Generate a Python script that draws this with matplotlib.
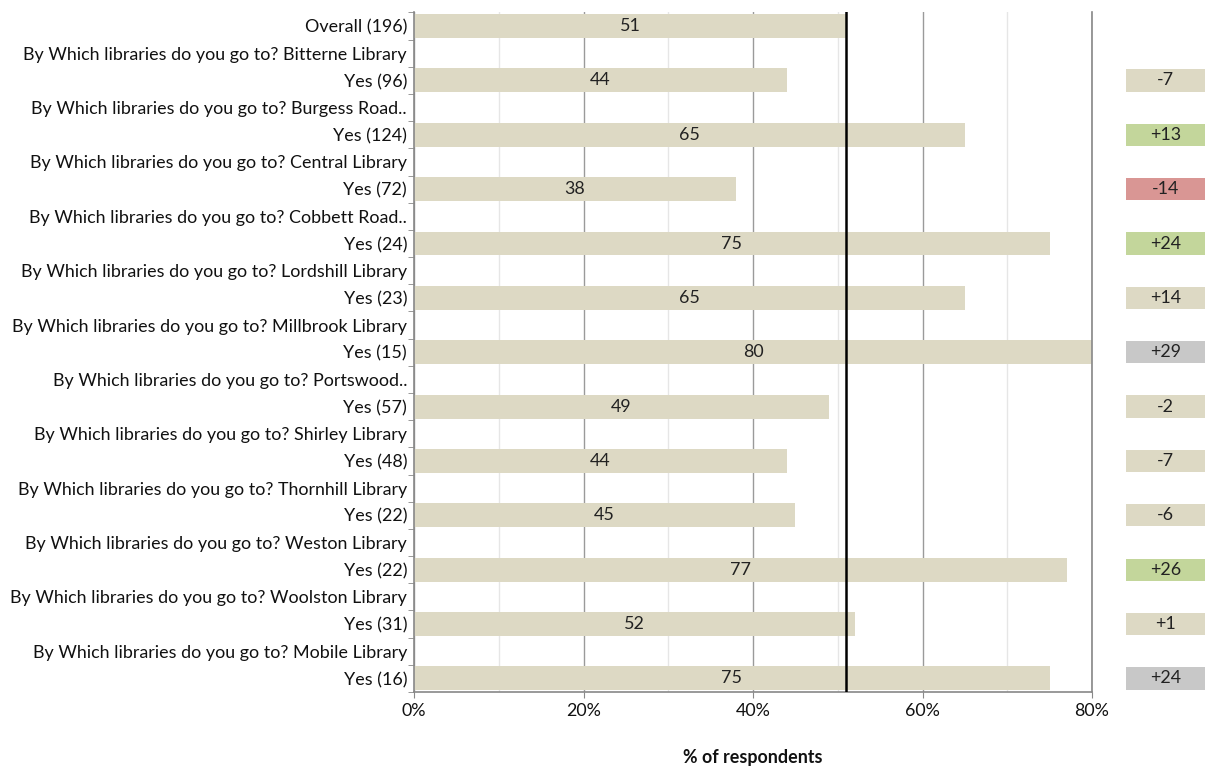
import matplotlib
matplotlib.use("Agg")
import matplotlib.pyplot as plt
from matplotlib.ticker import MultipleLocator, FuncFormatter, FixedLocator

plt.rcParams['font.family'] = ['Lato', 'DejaVu Sans']

labels = [
    "Overall (196)",
    "By Which libraries do you go to? Bitterne Library", "Yes (96)",
    "By Which libraries do you go to? Burgess Road..", "Yes (124)",
    "By Which libraries do you go to? Central Library", "Yes (72)",
    "By Which libraries do you go to? Cobbett Road..", "Yes (24)",
    "By Which libraries do you go to? Lordshill Library", "Yes (23)",
    "By Which libraries do you go to? Millbrook Library", "Yes (15)",
    "By Which libraries do you go to? Portswood..", "Yes (57)",
    "By Which libraries do you go to? Shirley Library", "Yes (48)",
    "By Which libraries do you go to? Thornhill Library", "Yes (22)",
    "By Which libraries do you go to? Weston Library", "Yes (22)",
    "By Which libraries do you go to? Woolston Library", "Yes (31)",
    "By Which libraries do you go to? Mobile Library", "Yes (16)",
]
# None marks a heading row without a bar
values = [51, None, 44, None, 65, None, 38, None, 75, None, 65, None, 80,
          None, 49, None, 44, None, 45, None, 77, None, 52, None, 75]
diffs = [None, None, "-7", None, "+13", None, "-14", None, "+24", None, "+14",
         None, "+29", None, "-2", None, "-7", None, "-6", None, "+26", None,
         "+1", None, "+24"]
diff_kind = [None, None, "n", None, "up", None, "down", None, "up", None, "n",
             None, "low", None, "n", None, "n", None, "n", None, "up", None,
             "n", None, "low"]

overall = values[0]
bar_color = "#DDD9C4"
kind_colors = {"n": "#DDD9C4", "up": "#C3D69B", "down": "#D99694", "low": "#C8C8C8"}
FS = 12.9

W, H = 1208, 767
fig = plt.figure(figsize=(W / 100, H / 100), dpi=100)
left, right, top, bottom = 414, 1092, 12.5, 692
ax = fig.add_axes([left / W, 1 - bottom / H, (right - left) / W, (bottom - top) / H])

n = len(labels)
ys = list(range(n))
for y, v in zip(ys, values):
    if v is None:
        continue
    ax.barh(y, v, height=0.88, color=bar_color, zorder=2)
    ax.text(v / 2, y, f"{v}", ha="center", va="center", fontsize=FS,
            color="#222222", zorder=4)

ax.axvline(overall, color="black", lw=1.8, zorder=3)

ax.set_xlim(0, 80)
ax.set_ylim(n - 0.5, -0.5)
ax.xaxis.set_major_locator(MultipleLocator(20))
ax.xaxis.set_minor_locator(MultipleLocator(10))
ax.xaxis.set_major_formatter(FuncFormatter(lambda x, p: f"{x:.0f}%"))
ax.grid(axis="x", which="major", color="#9A9A9A", lw=1.0, zorder=0)
ax.grid(axis="x", which="minor", color="#E6E6E6", lw=1.0, zorder=0)
ax.set_axisbelow(True)

ax.set_yticks(ys)
ax.set_yticklabels(labels, fontsize=FS, color="#111111")
ax.yaxis.set_minor_locator(FixedLocator([y - 0.5 for y in ys] + [n - 0.5]))
ax.tick_params(axis="y", which="major", length=0, pad=5)
ax.tick_params(axis="y", which="minor", length=4, color="#888888", direction="out")
ax.tick_params(axis="x", which="major", length=4, color="#888888", labelsize=FS,
               pad=4, labelcolor="#111111")
ax.tick_params(axis="x", which="minor", length=0)

for s in ["left", "bottom", "right"]:
    ax.spines[s].set_color("#888888")
    ax.spines[s].set_linewidth(1.2)
ax.spines["top"].set_visible(False)

fig.text((left + right) / 2 / W, 1 - 757 / H, "% of respondents", fontsize=FS,
         fontweight="bold", ha="center", va="center", color="#111111")

# Difference-from-overall column
ax2 = fig.add_axes([1126 / W, 1 - bottom / H, (1205 - 1126) / W, (bottom - top) / H])
ax2.set_xlim(0, 1)
ax2.set_ylim(n - 0.5, -0.5)
for y, d, k in zip(ys, diffs, diff_kind):
    if d is None:
        continue
    ax2.barh(y, 1, left=0, height=0.82, color=kind_colors[k])
    ax2.text(0.5, y, d, ha="center", va="center", fontsize=FS, color="#222222")
ax2.axis("off")

fig.savefig("out.png", dpi=100)
